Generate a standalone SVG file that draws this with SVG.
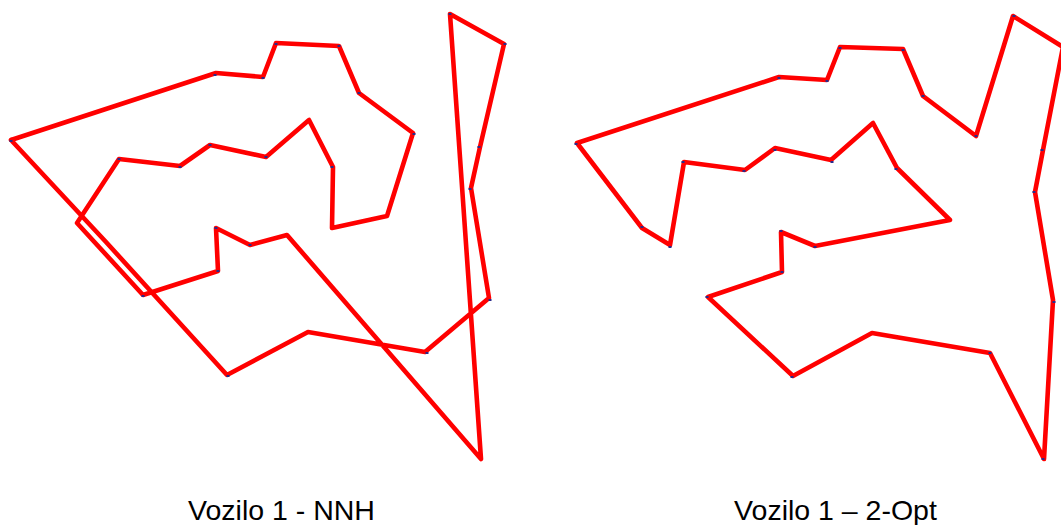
<svg xmlns="http://www.w3.org/2000/svg" width="1061" height="525" viewBox="0 0 1061 525">
<style>
.route{fill:none;stroke:#ff0000;stroke-width:4.6;stroke-linejoin:round;stroke-linecap:round}
.dot{fill:#2a2a8a}
.cap{font-family:"Liberation Sans",Arial,sans-serif;font-size:28.5px;fill:#000;text-anchor:middle}
</style>
<defs><rect id="d" class="dot" x="-1.5" y="-1" width="3" height="2"/></defs>
<rect width="1061" height="525" fill="#fff"/>
<g id="connectors">
<polyline id="route-nnh" class="route" points="11,140 216,73 263,77 276,43 339,46 359,93 413,133 387,216 332,228 333,167 309,120 266,157 210,145 180,166 119,159 77,223 143,295 218,271 216,228 250,245 287,235 481,459 450,14 504,44 480,147 471,188 489,298 425,352 308,332 227,375 106,242 11,140"/>
<polyline id="route-2opt" class="route" points="577,143 779,77 827,80 840,47 903,49 923,96 976,136 1013,16 1063,47 1043,150 1035,192 1053,300 1044,459 990,353 872,333 793,376 708,297 782,272 781,232 815,246 950,220 897,168 873,123 831,160 775,148 745,170 684,162 670,245 642,228 577,143"/>
</g>
<g id="nodes-nnh">
<g id="n1"><use href="#d" x="11" y="141"/></g>
<g id="n2"><use href="#d" x="215" y="75"/></g>
<g id="n3"><use href="#d" x="263" y="78"/></g>
<g id="n4"><use href="#d" x="276" y="44"/></g>
<g id="n5"><use href="#d" x="339" y="46"/></g>
<g id="n6"><use href="#d" x="359" y="93"/></g>
<g id="n7"><use href="#d" x="414" y="134"/></g>
<g id="n8"><use href="#d" x="332" y="167"/></g>
<g id="n9"><use href="#d" x="266" y="157"/></g>
<g id="n10"><use href="#d" x="210" y="145"/></g>
<g id="n11"><use href="#d" x="180" y="167"/></g>
<g id="n12"><use href="#d" x="119" y="159"/></g>
<g id="n13"><use href="#d" x="143" y="296"/></g>
<g id="n14"><use href="#d" x="218" y="271"/></g>
<g id="n15"><use href="#d" x="216" y="228"/></g>
<g id="n16"><use href="#d" x="250" y="245"/></g>
<g id="n17"><use href="#d" x="228" y="376"/></g>
<g id="n18"><use href="#d" x="427" y="353"/></g>
<g id="n19"><use href="#d" x="490" y="300"/></g>
<g id="n20"><use href="#d" x="470" y="189"/></g>
<g id="n21"><use href="#d" x="479" y="147"/></g>
<g id="n22"><use href="#d" x="505" y="44"/></g>
<g id="n23"><use href="#d" x="450" y="14"/></g>
</g>
<g id="nodes-2opt">
<g id="m1"><use href="#d" x="576" y="144"/></g>
<g id="m2"><use href="#d" x="779" y="78"/></g>
<g id="m3"><use href="#d" x="827" y="81"/></g>
<g id="m4"><use href="#d" x="840" y="48"/></g>
<g id="m5"><use href="#d" x="903" y="50"/></g>
<g id="m6"><use href="#d" x="923" y="96"/></g>
<g id="m7"><use href="#d" x="976" y="136"/></g>
<g id="m8"><use href="#d" x="1014" y="16"/></g>
<g id="m9"><use href="#d" x="1042" y="150"/></g>
<g id="m10"><use href="#d" x="1034" y="192"/></g>
<g id="m11"><use href="#d" x="1054" y="302"/></g>
<g id="m12"><use href="#d" x="1043" y="459"/></g>
<g id="m13"><use href="#d" x="990" y="353"/></g>
<g id="m14"><use href="#d" x="792" y="377"/></g>
<g id="m15"><use href="#d" x="707" y="297"/></g>
<g id="m16"><use href="#d" x="782" y="272"/></g>
<g id="m17"><use href="#d" x="781" y="231"/></g>
<g id="m18"><use href="#d" x="815" y="247"/></g>
<g id="m19"><use href="#d" x="896" y="169"/></g>
<g id="m20"><use href="#d" x="832" y="162"/></g>
<g id="m21"><use href="#d" x="775" y="150"/></g>
<g id="m22"><use href="#d" x="744" y="171"/></g>
<g id="m23"><use href="#d" x="683" y="162"/></g>
<g id="m24"><use href="#d" x="670" y="247"/></g>
<g id="m25"><use href="#d" x="642" y="227"/></g>
</g>
<g id="captions">
<text class="cap" x="281.5" y="520">Vozilo 1 - NNH</text>
<text class="cap" x="835.5" y="520">Vozilo 1 – 2-Opt</text>
</g>
</svg>
